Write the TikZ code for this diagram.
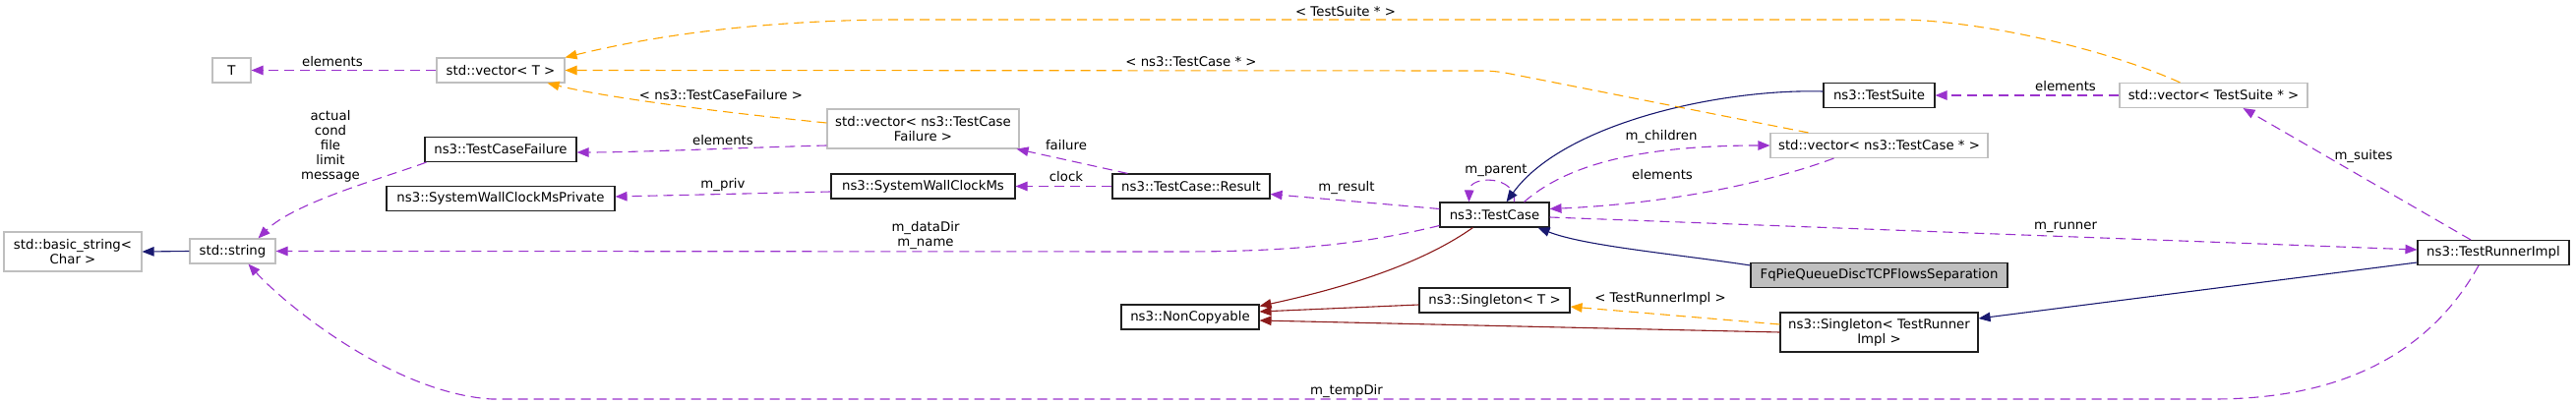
\documentclass[tikz,border=0pt]{standalone}
\usepackage{fontspec}
\setmainfont{DejaVu Sans}
\usetikzlibrary{arrows.meta}
\definecolor{purp}{HTML}{9A32CD}
\definecolor{orng}{HTML}{FFA500}
\definecolor{navy}{HTML}{191970}
\definecolor{fire}{HTML}{8B1A1A}
\definecolor{greyb}{HTML}{BFBFBF}
\definecolor{bord}{HTML}{202020}
\tikzset{
  cls/.style={draw=bord, line width=1.1pt, rectangle, inner sep=0pt, minimum height=25pt, align=center, font=\fontsize{13.3}{15}\selectfont},
  ext/.style={cls, draw=greyb},
  lbl/.style={inner sep=0pt, align=center, font=\fontsize{13.3}{15}\selectfont},
  tipa/.style={-{Triangle[length=12pt,width=9.5pt]}},
  use/.style={draw=purp, line width=1.1pt, dash pattern=on 10pt off 6pt, tipa},
  tmpl/.style={draw=orng, line width=1.1pt, dash pattern=on 10pt off 6pt, tipa},
  inh/.style={draw=navy, line width=1.1pt, tipa},
  ncl/.style={draw=fire, line width=1.1pt, tipa},
}
\begin{document}
\begin{tikzpicture}[x=1pt,y=-1pt]
\useasboundingbox (0,0) rectangle (2619,412);
% nodes
\node[ext, minimum width=39pt] (T) at (235.5,71.5) {T};
\node[ext, minimum width=130pt] (vecT) at (509,71.5) {std::vector< T >};
\node[cls, minimum width=154pt] (tcf) at (509,152) {ns3::TestCaseFailure};
\node[cls, minimum width=232pt] (swcmp) at (509,202) {ns3::SystemWallClockMsPrivate};
\node[ext, minimum width=140pt, minimum height=40pt] (bstr) at (74,256) {std::basic\_string<\\Char >};
\node[ext, minimum width=87pt] (str) at (236.5,255.5) {std::string};
\node[ext, minimum width=195pt, minimum height=40pt] (vtcf) at (938.5,131) {std::vector< ns3::TestCase\\Failure >};
\node[cls, minimum width=187pt] (swcm) at (938.5,189.5) {ns3::SystemWallClockMs};
\node[cls, minimum width=160pt] (res) at (1211,189.5) {ns3::TestCase::Result};
\node[cls, minimum width=111pt] (tc) at (1519.5,218.5) {ns3::TestCase};
\node[cls, minimum width=140pt] (nc) at (1210,322.5) {ns3::NonCopyable};
\node[cls, minimum width=153pt] (st) at (1519.5,305.5) {ns3::Singleton< T >};
\node[cls, minimum width=113pt] (ts) at (1910.5,97) {ns3::TestSuite};
\node[ext, minimum width=191pt] (vts) at (2250.5,97) {std::vector< TestSuite * >};
\node[ext, minimum width=221pt] (vtc) at (1910.5,148) {std::vector< ns3::TestCase * >};
\node[cls, fill=greyb, minimum width=261pt] (fq) at (1910.5,280) {FqPieQueueDiscTCPFlowsSeparation};
\node[cls, minimum width=201pt, minimum height=40pt] (stri) at (1910.5,338) {ns3::Singleton< TestRunner\\Impl >};
\node[cls, minimum width=154pt] (tri) at (2535,257) {ns3::TestRunnerImpl};
% edges
\draw[use] (vecT.west) -- (T.east);
\draw[inh] (str.west) -- (bstr.east);
\draw[use] ([xshift=2pt]tcf.south west) .. controls (400,178) and (300,205) .. ([xshift=26pt]str.north);
\draw[use] ([yshift=-17pt]vtcf.west) .. controls (760,150) and (650,155) .. ([yshift=-3pt]tcf.east);
\draw[tmpl] ([yshift=6pt]vtcf.west) .. controls (740,115) and (620,100) .. ([xshift=-18pt]vecT.south east);
\draw[use] ([yshift=-5.5pt]swcm.west) -- ([yshift=2pt]swcmp.east);
\draw[use] ([xshift=16pt]res.north west) -- ([xshift=-3pt]vtcf.south east);
\draw[use] (res.west) -- (swcm.east);
\draw[use] ([yshift=6pt]tc.west) -- ([yshift=-8pt]res.east);
\draw[use] ([yshift=-11pt]tc.west) .. controls (1380,250) and (1300,256) .. (1200,256) -- (str.east);
\draw[use] ([xshift=20pt]tc.north) .. controls (1542,178) and (1494,178) .. ([xshift=-26pt]tc.north);
\draw[inh] ([yshift=4pt]ts.west) .. controls (1750,90) and (1590,125) .. ([xshift=12pt]tc.north);
\draw[use] (vts.west) -- (ts.east);
\draw[tmpl] ([xshift=-34pt]vts.north) .. controls (2130,45) and (2000,20) .. (1930,20) -- (900,20) .. controls (750,22) and (650,40) .. (vecT.north east);
\draw[tmpl, rounded corners=12pt] ([xshift=-72pt]vtc.north) -- (1520,72) -- (vecT.east);
\draw[use] ([xshift=30pt]tc.north) .. controls (1590,170) and (1660,148) .. (vtc.west);
\draw[use] ([xshift=-46pt]vtc.south) .. controls (1800,185) and (1700,207) .. ([yshift=6pt]tc.east);
\draw[use] ([yshift=-2.5pt]tc.east) -- ([yshift=3pt]tri.west);
\draw[use] ([xshift=-23pt]tri.north) -- ([xshift=30pt]vts.south);
\draw[use] ([xshift=-15pt]tri.south) .. controls (2470,360) and (2380,406) .. (2250,406) -- (500,406) .. controls (400,400) and (290,310) .. ([xshift=16pt]str.south);
\draw[inh] ([yshift=-3pt]fq.north west) .. controls (1700,258) and (1610,250) .. ([xshift=-12pt]tc.south east);
\draw[ncl] ([xshift=-22pt]tc.south) .. controls (1450,265) and (1380,290) .. ([yshift=-2pt]nc.north east);
\draw[ncl] ([yshift=-4.5pt]st.west) -- ([yshift=5.5pt]nc.east);
\draw[ncl] (stri.west) -- ([yshift=-3.5pt]nc.east);
\draw[tmpl] ([yshift=8pt]stri.west) -- ([yshift=-6.5pt]st.east);
\draw[inh] ([yshift=-10pt]tri.west) -- ([yshift=14pt]stri.east);
% labels
\node[lbl] (l1) at (338,63) {elements};
\node[lbl] (l2) at (336,149) {actual\\cond\\file\\limit\\message};
\node[lbl] (l3) at (733,97) {< ns3::TestCaseFailure >};
\node[lbl] (l4) at (735,143) {elements};
\node[lbl] (l5) at (735,188) {m\_priv};
\node[lbl] (l6) at (1084,148) {failure};
\node[lbl] (l7) at (1084,180) {clock};
\node[lbl] (l8) at (1369,191) {m\_result};
\node[lbl] (l9) at (941,240) {m\_dataDir\\m\_name};
\node[lbl] (l10) at (1521,173) {m\_parent};
\node[lbl] (l11) at (1368,12) {< TestSuite * >};
\node[lbl] (l12) at (1211,63) {< ns3::TestCase * >};
\node[lbl] (l13) at (1689,139) {m\_children};
\node[lbl] (l14) at (1690,178) {elements};
\node[lbl] (l15) at (2100,88) {elements};
\node[lbl] (l16) at (2403,159) {m\_suites};
\node[lbl] (l17) at (2100,231) {m\_runner};
\node[lbl] (l18) at (1688,304) {< TestRunnerImpl >};
\node[lbl] (l19) at (1369,398) {m\_tempDir};
\end{tikzpicture}
\end{document}
